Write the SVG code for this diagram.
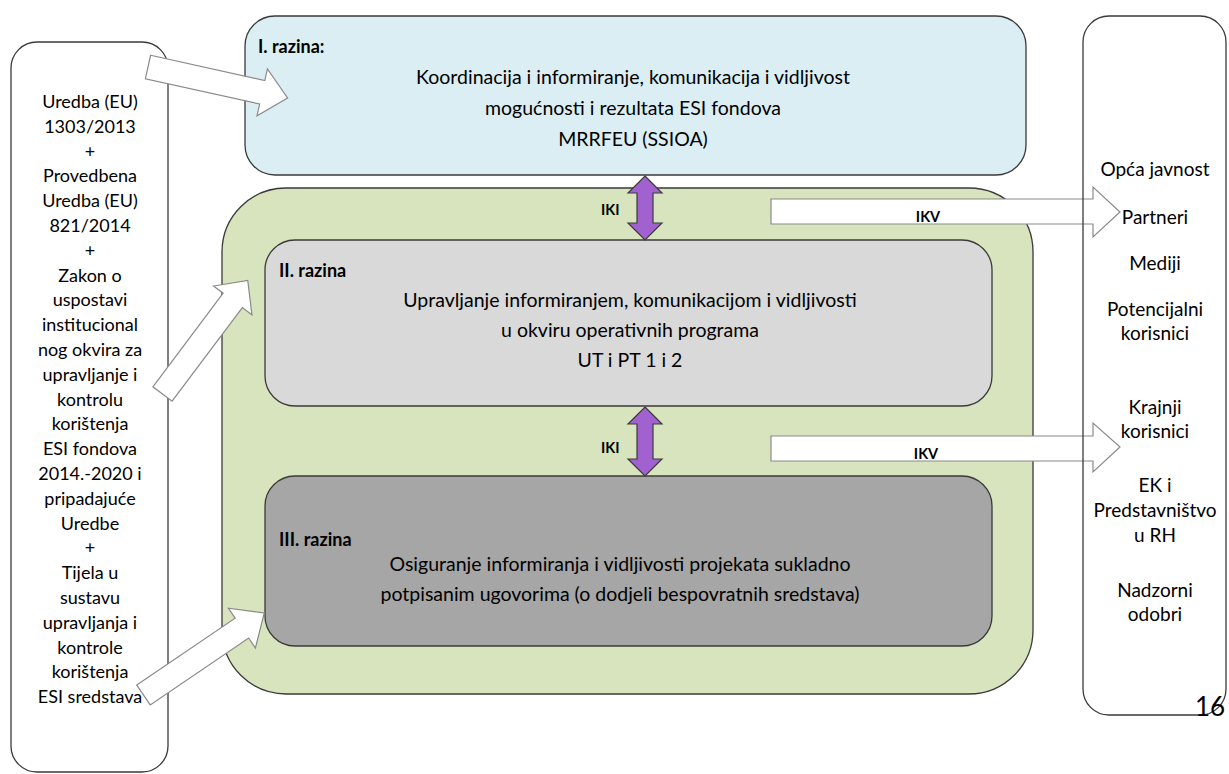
<svg xmlns="http://www.w3.org/2000/svg" width="1229" height="774" viewBox="0 0 1229 774">
<style>
text{font-family:Lato,"Open Sans","Liberation Sans",sans-serif;fill:#000}
.t{font-size:18px;text-anchor:middle}
.c{font-size:19.5px;text-anchor:middle}
.r{font-size:19px;text-anchor:middle}
.b{font-size:18px;font-weight:bold}
.s{font-size:14.5px;font-weight:bold}
.box{stroke:#3a3a3a;stroke-width:1.3}
.blk{fill:#fff;stroke:#8a8a8a;stroke-width:1.2}
.dbl{fill:#a162d0;stroke:#3a3a3a;stroke-width:1.2}
</style>
<rect width="1229" height="774" fill="#fff"/>
<g id="left-box">
<rect class="box" x="11" y="42" width="157" height="730" rx="26" fill="#fff"/>
<text class="t" x="90" y="108">Uredba (EU)</text>
<text class="t" x="90" y="132.8">1303/2013</text>
<text class="t" x="90" y="157.6">+</text>
<text class="t" x="90" y="182.4">Provedbena</text>
<text class="t" x="90" y="207.2">Uredba (EU)</text>
<text class="t" x="90" y="232">821/2014</text>
<text class="t" x="90" y="256.8">+</text>
<text class="t" x="90" y="281.6">Zakon o</text>
<text class="t" x="90" y="306.4">uspostavi</text>
<text class="t" x="90" y="331.2">institucional</text>
<text class="t" x="90" y="356">nog okvira za</text>
<text class="t" x="90" y="380.8">upravljanje i</text>
<text class="t" x="90" y="405.6">kontrolu</text>
<text class="t" x="90" y="430.4">korištenja</text>
<text class="t" x="90" y="455.2">ESI fondova</text>
<text class="t" x="90" y="480">2014.-2020 i</text>
<text class="t" x="90" y="504.8">pripadajuće</text>
<text class="t" x="90" y="529.6">Uredbe</text>
<text class="t" x="90" y="554.4">+</text>
<text class="t" x="90" y="579.2">Tijela u</text>
<text class="t" x="90" y="604">sustavu</text>
<text class="t" x="90" y="628.8">upravljanja i</text>
<text class="t" x="90" y="653.6">kontrole</text>
<text class="t" x="90" y="678.4">korištenja</text>
<text class="t" x="90" y="703.2">ESI sredstava</text>
</g>
<g id="level1">
<rect class="box" x="245" y="16" width="781" height="159" rx="30" fill="#dbeef4"/>
<text class="b" x="258" y="53">I. razina:</text>
<text class="c" x="633" y="84">Koordinacija i informiranje, komunikacija i vidljivost</text>
<text class="c" x="633" y="115">mogućnosti i rezultata ESI fondova</text>
<text class="c" x="633" y="146">MRRFEU (SSIOA)</text>
</g>
<g id="frame">
<rect class="box" x="222" y="188" width="811" height="506" rx="64" fill="#d7e4bd"/>
</g>
<g id="level2">
<rect class="box" x="265" y="240" width="727" height="166" rx="30" fill="#d9d9d9"/>
<text class="b" x="279" y="277">II. razina</text>
<text class="c" x="630" y="307">Upravljanje informiranjem, komunikacijom i vidljivosti</text>
<text class="c" x="630" y="337">u okviru operativnih programa</text>
<text class="c" x="630" y="367">UT i PT 1 i 2</text>
</g>
<g id="level3">
<rect class="box" x="265" y="476" width="727" height="170" rx="30" fill="#a6a6a6"/>
<text class="b" x="279" y="546">III. razina</text>
<text class="c" x="620" y="571">Osiguranje informiranja i vidljivosti projekata sukladno</text>
<text class="c" x="620" y="601">potpisanim ugovorima (o dodjeli bespovratnih sredstava)</text>
</g>
<g id="connectors">
<polygon class="blk" transform="translate(148,67) rotate(12.5)" points="0,-12 117,-12 117,-24 143,0 117,24 117,12 0,12"/>
<polygon class="blk" transform="translate(162.5,394) rotate(-53.1)" points="0,-12 117,-12 117,-24 142,0 117,24 117,12 0,12"/>
<polygon class="blk" transform="translate(143.5,695) rotate(-34.2)" points="0,-12 119,-12 119,-24 146,0 119,24 119,12 0,12"/>
<polygon class="dbl" points="645,176 662,193 653,193 653,223 662,223 645,240 628,223 637,223 637,193 628,193"/>
<polygon class="dbl" points="645,407 662,424 653,424 653,459 662,459 645,476 628,459 637,459 637,424 628,424"/>
<text class="s" x="601" y="215">IKI</text>
<text class="s" x="601" y="453">IKI</text>
<polygon class="blk" points="771,199 1093,199 1093,187 1120,212 1093,237 1093,224 771,224"/>
<polygon class="blk" points="771,436 1093,436 1093,423 1120,447 1093,472 1093,461 771,461"/>
<text class="s" x="928" y="222" text-anchor="middle">IKV</text>
<text class="s" x="926" y="459" text-anchor="middle">IKV</text>
</g>
<g id="right-box">
<rect class="box" x="1083" y="16" width="143" height="699" rx="26" fill="none"/>
<text class="r" x="1155" y="176">Opća javnost</text>
<text class="r" x="1155" y="224">Partneri</text>
<text class="r" x="1155" y="270">Mediji</text>
<text class="r" x="1155" y="316">Potencijalni</text>
<text class="r" x="1155" y="340">korisnici</text>
<text class="r" x="1155" y="414">Krajnji</text>
<text class="r" x="1155" y="438">korisnici</text>
<text class="r" x="1155" y="492">EK i</text>
<text class="r" x="1155" y="517">Predstavništvo</text>
<text class="r" x="1155" y="542">u RH</text>
<text class="r" x="1155" y="597">Nadzorni</text>
<text class="r" x="1155" y="621">odobri</text>
</g>
<text x="1210" y="716" text-anchor="middle" font-size="26">16</text>
</svg>
